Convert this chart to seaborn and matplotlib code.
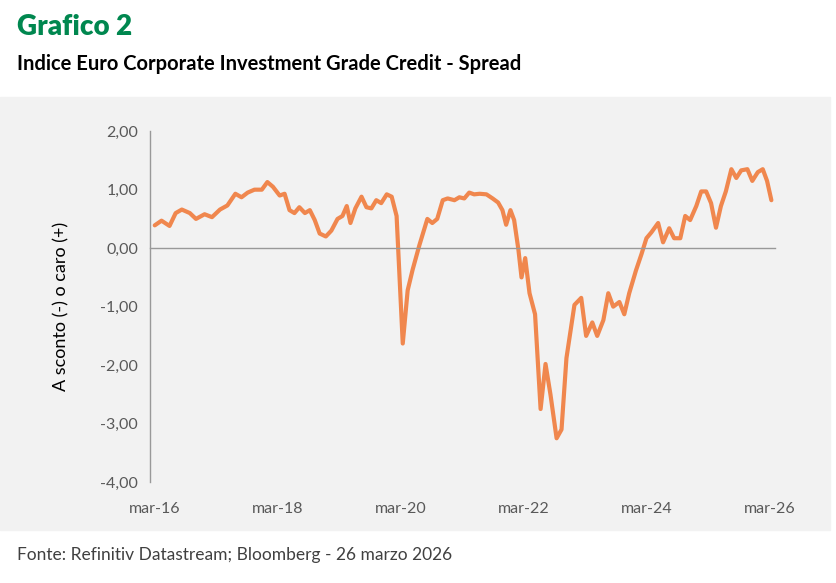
import matplotlib
matplotlib.use("Agg")
import matplotlib.pyplot as plt
import seaborn as sns
import pandas as pd
from matplotlib.patches import Rectangle

years = [2016.17,2016.28,2016.41,2016.51,2016.61,2016.74,2016.84,2016.98,2017.10,2017.23,2017.35,2017.48,2017.58,2017.68,2017.79,2017.91,2018.00,2018.09,2018.20,2018.28,2018.36,2018.44,2018.52,2018.61,2018.69,2018.77,2018.85,2018.95,2019.04,2019.14,2019.22,2019.29,2019.35,2019.43,2019.53,2019.61,2019.69,2019.77,2019.85,2019.94,2020.02,2020.10,2020.20,2020.28,2020.36,2020.47,2020.60,2020.68,2020.76,2020.85,2020.93,2021.04,2021.12,2021.20,2021.28,2021.36,2021.45,2021.56,2021.66,2021.75,2021.82,2021.88,2021.95,2022.01,2022.08,2022.13,2022.19,2022.26,2022.35,2022.44,2022.52,2022.60,2022.70,2022.78,2022.86,2022.99,2023.10,2023.18,2023.28,2023.36,2023.46,2023.54,2023.62,2023.72,2023.80,2023.88,2023.99,2024.08,2024.16,2024.24,2024.35,2024.43,2024.53,2024.61,2024.71,2024.79,2024.87,2024.97,2025.05,2025.13,2025.21,2025.29,2025.37,2025.45,2025.54,2025.62,2025.70,2025.80,2025.88,2025.97,2026.05,2026.12,2026.19]
spread = [0.39,0.47,0.38,0.6,0.66,0.6,0.5,0.58,0.53,0.66,0.73,0.93,0.87,0.95,1.0,1.0,1.13,1.05,0.9,0.93,0.65,0.6,0.7,0.6,0.65,0.48,0.25,0.2,0.3,0.5,0.55,0.72,0.43,0.68,0.88,0.7,0.68,0.82,0.77,0.92,0.88,0.55,-1.63,-0.72,-0.37,0.05,0.5,0.43,0.5,0.82,0.85,0.82,0.87,0.85,0.95,0.92,0.93,0.92,0.85,0.78,0.65,0.4,0.65,0.48,-0.03,-0.5,-0.17,-0.77,-1.13,-2.75,-1.98,-2.5,-3.25,-3.1,-1.88,-0.97,-0.85,-1.5,-1.27,-1.5,-1.23,-0.77,-1.0,-0.92,-1.13,-0.77,-0.38,-0.1,0.17,0.27,0.43,0.1,0.34,0.17,0.17,0.55,0.48,0.72,0.97,0.97,0.77,0.35,0.72,0.97,1.35,1.2,1.33,1.35,1.15,1.3,1.35,1.15,0.82]
tick_pos = [2016.17,2018.17,2020.17,2022.17,2024.17,2026.17]
tick_labels = ["mar-16","mar-18","mar-20","mar-22","mar-24","mar-26"]
yticks = [2,1,0,-1,-2,-3,-4]

sns.set_style("white")
plt.rcParams['font.family'] = ['Lato', 'DejaVu Sans']
bg = "#f2f2f2"
fig = plt.figure(figsize=(8.37,5.83), dpi=100)
fig.patches.append(Rectangle((0,0.091),0.992,0.743,transform=fig.transFigure,color=bg,zorder=-10))
ax = fig.add_axes([0.179,0.173,0.747,0.602])
ax.set_facecolor(bg)
df = pd.DataFrame({"x":years,"y":spread})
sns.lineplot(data=df,x="x",y="y",ax=ax,color="#f0874e",linewidth=3)
ax.set_xlim(2016.09,2026.25)
ax.set_ylim(-4,2)
ax.set_xticks(tick_pos); ax.set_xticklabels(tick_labels)
ax.set_yticks(yticks); ax.set_yticklabels([f"{v:.2f}".replace(".",",") for v in yticks])
for s in ["top","right"]: ax.spines[s].set_visible(False)
for s in ["left","bottom"]:
    ax.spines[s].set_color("#999999"); ax.spines[s].set_linewidth(1)
ax.spines["bottom"].set_position(("data",0))
ax.tick_params(axis="both",colors="#999999",labelcolor="#595959",labelsize=11.5,length=5,direction="out")
ax.tick_params(axis="x",pad=178)
ax.set_xlabel("")
ax.set_ylabel("A sconto (-) o caro (+)",fontsize=13,color="black",labelpad=22)
fig.text(0.02,0.94,"Grafico 2",fontsize=20,fontweight="heavy",color="#00874f")
fig.text(0.02,0.88,"Indice Euro Corporate Investment Grade Credit - Spread",fontsize=14.5,fontweight="bold",color="black")
fig.text(0.02,0.04,"Fonte: Refinitiv Datastream; Bloomberg - 26 marzo 2026",fontsize=12.5,color="#404040")
fig.savefig("out.png",dpi=100)
